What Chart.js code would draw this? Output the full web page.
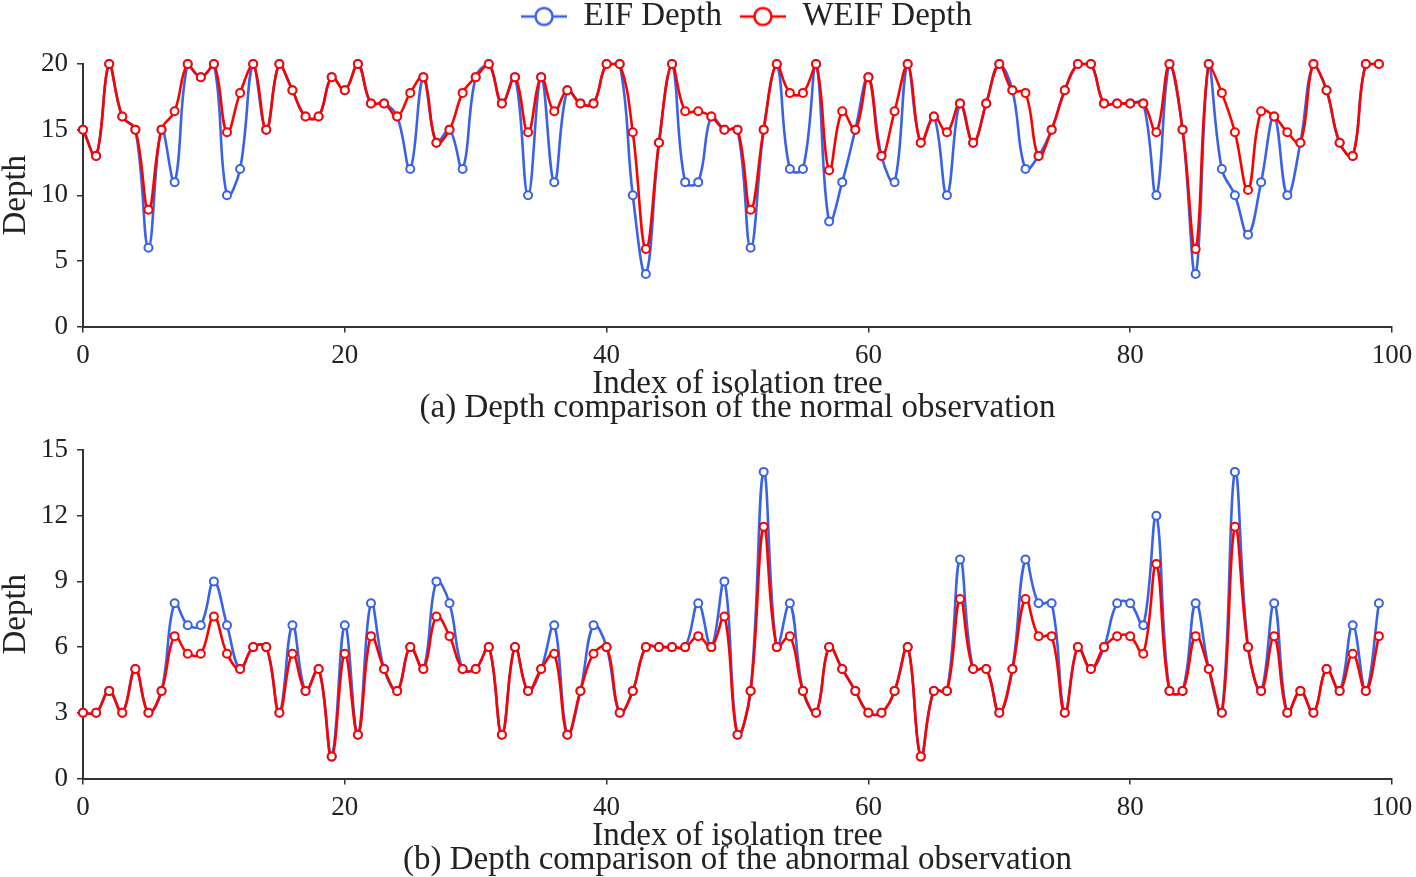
<!DOCTYPE html>
<html>
<head>
<meta charset="utf-8">
<title>EIF vs WEIF Depth</title>
<script src="https://cdn.jsdelivr.net/npm/chart.js@4.4.1/dist/chart.umd.min.js"></script>
<style>
    body { margin: 0; background: #fff; }
    canvas { display: block; }
</style>
</head>
<body>
<canvas id="depthNormal" width="1416" height="430"></canvas>
<canvas id="depthAbnormal" width="1416" height="447"></canvas>
<script>
// Profundidad por árbol (índice 0..99), observación normal
const eifNormal = [15, 13, 20, 16, 15, 6, 15, 11, 20, 19, 20, 10, 12, 20, 15, 20, 18, 16, 16, 19,
    18, 20, 17, 17, 16, 12, 19, 14, 15, 12, 19, 20, 17, 19, 10, 19, 11, 18, 17, 17,
    20, 20, 10, 4, 14, 20, 11, 11, 16, 15, 15, 6, 15, 20, 12, 12, 20, 8, 11, 15,
    19, 13, 11, 20, 14, 16, 10, 17, 14, 17, 20, 18, 12, 13, 15, 18, 20, 20, 17, 17,
    17, 17, 10, 20, 15, 4, 20, 12, 10, 7, 11, 16, 10, 14, 20, 18, 14, 13, 20, 20];
const weifNormal = [15, 13, 20, 16, 15, 8.9, 15, 16.4, 20, 19, 20, 14.8, 17.8, 20, 15, 20, 18, 16, 16, 19,
    18, 20, 17, 17, 16, 17.8, 19, 14, 15, 17.8, 19, 20, 17, 19, 14.8, 19, 16.4, 18, 17, 17,
    20, 20, 14.8, 5.9, 14, 20, 16.4, 16.4, 16, 15, 15, 8.9, 15, 20, 17.8, 17.8, 20, 11.9, 16.4, 15,
    19, 13, 16.4, 20, 14, 16, 14.8, 17, 14, 17, 20, 18, 17.8, 13, 15, 18, 20, 20, 17, 17,
    17, 17, 14.8, 20, 15, 5.9, 20, 17.8, 14.8, 10.4, 16.4, 16, 14.8, 14, 20, 18, 14, 13, 20, 20];

// Profundidad por árbol, observación anómala
const eifAbnormal = [3, 3, 4, 3, 5, 3, 4, 8, 7, 7, 9, 7, 5, 6, 6, 3, 7, 4, 5, 1,
    7, 2, 8, 5, 4, 6, 5, 9, 8, 5, 5, 6, 2, 6, 4, 5, 7, 2, 4, 7,
    6, 3, 4, 6, 6, 6, 6, 8, 6, 9, 2, 4, 14, 6, 8, 4, 3, 6, 5, 4,
    3, 3, 4, 6, 1, 4, 4, 10, 5, 5, 3, 5, 10, 8, 8, 3, 6, 5, 6, 8,
    8, 7, 12, 4, 4, 8, 5, 3, 14, 6, 4, 8, 3, 4, 3, 5, 4, 7, 4, 8];
const weifAbnormal = [3, 3, 4, 3, 5, 3, 4, 6.5, 5.7, 5.7, 7.4, 5.7, 5, 6, 6, 3, 5.7, 4, 5, 1,
    5.7, 2, 6.5, 5, 4, 6, 5, 7.4, 6.5, 5, 5, 6, 2, 6, 4, 5, 5.7, 2, 4, 5.7,
    6, 3, 4, 6, 6, 6, 6, 6.5, 6, 7.4, 2, 4, 11.5, 6, 6.5, 4, 3, 6, 5, 4,
    3, 3, 4, 6, 1, 4, 4, 8.2, 5, 5, 3, 5, 8.2, 6.5, 6.5, 3, 6, 5, 6, 6.5,
    6.5, 5.7, 9.8, 4, 4, 6.5, 5, 3, 11.5, 6, 4, 6.5, 3, 4, 3, 5, 4, 5.7, 4, 6.5];

const seriesNames = ['EIF Depth', 'WEIF Depth'];
const captions = ['(a) Depth comparison of the normal observation', '(b) Depth comparison of the abnormal observation'];

const BLUE = '#3a62e6';
const RED = '#ff0000';
const SERIF = "'Liberation Serif', 'Times New Roman', serif";

Chart.defaults.color = '#222';
Chart.defaults.font.family = SERIF;

// Icono de leyenda: línea con círculo
const legendIcon = (color) => {
    const c = document.createElement('canvas');
    c.width = 64;
    c.height = 24;
    const ctx = c.getContext('2d');
    ctx.strokeStyle = color;
    ctx.lineWidth = 2.5;
    ctx.beginPath();
    ctx.moveTo(18, 12);
    ctx.lineTo(64, 12);
    ctx.stroke();
    ctx.fillStyle = '#fff';
    ctx.beginPath();
    ctx.arc(41, 12, 8.5, 0, Math.PI * 2);
    ctx.fill();
    ctx.stroke();
    return c;
};
const legendIcons = [legendIcon(BLUE), legendIcon(RED)];

// Deja espacio fijo bajo la leyenda
const legendSpace = {
    id: 'legendSpace',
    afterInit(chart) {
        if (!chart.legend) return;
        const fit = chart.legend.fit;
        chart.legend.fit = function () {
            fit.call(this);
            this.height = 64;
        };
    }
};

const toPoints = (values) => values.map((v, i) => ({ x: i, y: v }));

const makeDataset = (label, values, color, order) => ({
    label: label,
    data: toPoints(values),
    borderColor: color,
    backgroundColor: '#fff',
    pointBackgroundColor: '#fff',
    pointBorderColor: color,
    pointRadius: 4,
    pointBorderWidth: 2,
    borderWidth: 2.6,
    tension: 0.4,
    order: order,
    clip: false
});

function buildChart(id, eif, weif, yMax, yStep, caption, showLegend, padding) {
    const ctx = document.getElementById(id).getContext('2d');
    return new Chart(ctx, {
        type: 'line',
        data: {
            datasets: [
                makeDataset(seriesNames[0], eif, BLUE, 1),
                makeDataset(seriesNames[1], weif, RED, 0)
            ]
        },
        options: {
            responsive: false,
            animation: false,
            layout: { padding: padding },
            scales: {
                x: {
                    type: 'linear',
                    min: 0,
                    max: 100,
                    afterFit: (scale) => {
                        scale.height = 74;
                        scale.paddingRight = 0;
                    },
                    ticks: { stepSize: 20, padding: 7, font: { size: 27 }, color: '#222' },
                    grid: { drawOnChartArea: false, drawTicks: true, tickLength: 6, color: '#333', lineWidth: 1.5 },
                    border: { display: true, color: '#333', width: 2 },
                    title: {
                        display: true,
                        text: 'Index of isolation tree',
                        font: { size: 33, lineHeight: 1 },
                        padding: { top: 0, bottom: 0 },
                        color: '#222'
                    }
                },
                y: {
                    min: 0,
                    max: yMax,
                    afterFit: (scale) => {
                        scale.width = 83;
                        scale.paddingTop = 0;
                    },
                    ticks: { stepSize: yStep, padding: 9, font: { size: 27 }, color: '#222' },
                    grid: { drawOnChartArea: false, drawTicks: true, tickLength: 6, color: '#333', lineWidth: 1.5 },
                    border: { display: true, color: '#333', width: 2 },
                    title: {
                        display: true,
                        text: 'Depth',
                        font: { size: 33, lineHeight: 1 },
                        padding: { top: 0, bottom: 0 },
                        color: '#222'
                    }
                }
            },
            plugins: {
                legend: {
                    display: showLegend,
                    position: 'top',
                    fullSize: false,
                    labels: {
                        usePointStyle: true,
                        pointStyleWidth: 64,
                        padding: 0,
                        font: { size: 33 },
                        color: '#222',
                        generateLabels: (chart) => {
                            const items = Chart.defaults.plugins.legend.labels.generateLabels(chart);
                            items.sort((a, b) => a.datasetIndex - b.datasetIndex);
                            items.forEach(item => { item.pointStyle = legendIcons[item.datasetIndex]; });
                            return items;
                        }
                    }
                },
                title: {
                    display: true,
                    position: 'bottom',
                    fullSize: false,
                    text: caption,
                    font: { size: 33, weight: 'normal', lineHeight: 0.5 },
                    padding: 0,
                    color: '#222'
                },
                tooltip: { enabled: false }
            }
        },
        plugins: showLegend ? [legendSpace] : []
    });
}

// Gráfica (a): observación normal
buildChart('depthNormal', eifNormal, weifNormal, 20, 5, captions[0], true,
    { top: 0, right: 24, bottom: 13, left: 0 });

// Gráfica (b): observación anómala
buildChart('depthAbnormal', eifAbnormal, weifAbnormal, 15, 3, captions[1], false,
    { top: 20, right: 24, bottom: 8, left: 0 });
</script>
</body>
</html>
